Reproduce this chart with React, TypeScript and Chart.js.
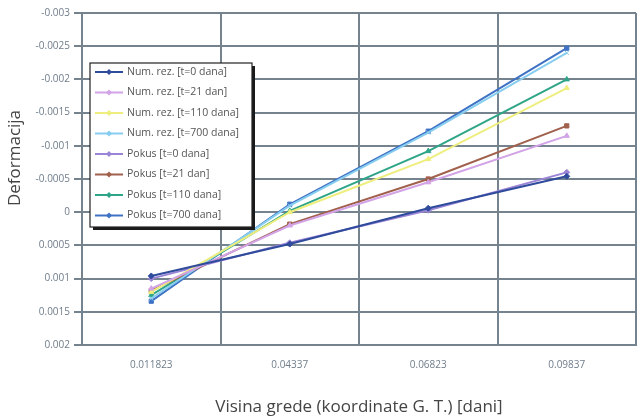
import React, { useEffect, useRef } from "react";
import { Chart, registerables } from "chart.js";

Chart.register(...registerables);

const categories = ["0.011823", "0.04337", "0.06823", "0.09837"];

const seriesLabels = [
  "Num. rez. [t=0 dana]",
  "Num. rez. [t=21 dan]",
  "Num. rez. [t=110 dana]",
  "Num. rez. [t=700 dana]",
  "Pokus [t=0 dana]",
  "Pokus [t=21 dan]",
  "Pokus [t=110 dana]",
  "Pokus [t=700 dana]",
];

const numT0 = [0.00096, 0.00048, -0.00006, -0.00054];
const numT21 = [0.00115, 0.0002, -0.00045, -0.00115];
const numT110 = [0.0012, 0.0, -0.0008, -0.00187];
const numT700 = [0.0013, -0.0001, -0.0012, -0.0024];
const pokT0 = [0.001, 0.00046, -0.00003, -0.0006];
const pokT21 = [0.00118, 0.00018, -0.0005, -0.0013];
const pokT110 = [0.00125, -0.00002, -0.00092, -0.002];
const pokT700 = [0.00134, -0.00012, -0.00122, -0.00247];

const seriesValues = [numT0, numT21, numT110, numT700, pokT0, pokT21, pokT110, pokT700];
const seriesColors = [
  "#2f4b9b",
  "#d2a3e6",
  "#eeee7e",
  "#86cdf0",
  "#9a84d6",
  "#a0604c",
  "#2ea587",
  "#3f72c4",
];
const seriesPoints = ["rectRot", "triangle", "triangle", "crossRot", "rectRot", "rect", "triangle", "rect"];

const yMin = -0.003;
const yMax = 0.002;
const yStep = 0.0005;

const xTitle = "Visina grede (koordinate G. T.) [dani]";
const yTitle = "Deformacija";

const gridColor = "#74838e";
const tickColor = "#6f7d8b";

const boxLegend = {
  id: "boxLegend",
  afterDraw(chart: any) {
    const ctx = chart.ctx;
    const x0 = 90;
    const y0 = 63;
    const w = 162;
    const h = 164;
    ctx.save();
    ctx.fillStyle = "#1a1a1a";
    ctx.fillRect(x0 + 3, y0 + 3, w, h);
    ctx.fillStyle = "#ffffff";
    ctx.fillRect(x0, y0, w, h);
    ctx.strokeStyle = "#222";
    ctx.lineWidth = 1.2;
    ctx.strokeRect(x0, y0, w, h);
    ctx.font = "10.5px 'Open Sans'";
    ctx.textBaseline = "middle";
    ctx.textAlign = "left";
    chart.data.datasets.forEach((ds: any, i: number) => {
      const y = y0 + 9 + i * 20.5;
      ctx.strokeStyle = ds.borderColor;
      ctx.lineWidth = 2;
      ctx.beginPath();
      ctx.moveTo(95, y);
      ctx.lineTo(123, y);
      ctx.stroke();
      ctx.fillStyle = ds.borderColor;
      ctx.beginPath();
      ctx.moveTo(109, y - 3);
      ctx.lineTo(112, y);
      ctx.lineTo(109, y + 3);
      ctx.lineTo(106, y);
      ctx.closePath();
      ctx.fill();
      ctx.fillStyle = "#555";
      ctx.fillText(ds.label, 127, y);
    });
    ctx.restore();
  },
};

const yTitlePlugin = {
  id: "yTitlePlugin",
  afterDraw(chart: any) {
    const ctx = chart.ctx;
    ctx.save();
    ctx.translate(15, 158);
    ctx.rotate(-Math.PI / 2);
    ctx.font = "17px 'Open Sans'";
    ctx.fillStyle = "#444";
    ctx.textAlign = "center";
    ctx.textBaseline = "middle";
    ctx.fillText(yTitle, 0, 0);
    ctx.restore();
  },
};

export default function App() {
  const canvasRef = useRef<HTMLCanvasElement | null>(null);

  useEffect(() => {
    document.body.style.margin = "0";
    const canvas = canvasRef.current;
    if (!canvas) return;
    const chart = new Chart(canvas, {
      type: "line",
      data: {
        labels: categories,
        datasets: seriesValues.map((vals, i) => ({
          label: seriesLabels[i],
          data: vals,
          borderColor: seriesColors[i],
          backgroundColor: seriesColors[i],
          borderWidth: 2,
          pointRadius: 3,
          pointStyle: seriesPoints[i] as any,
          pointBorderWidth: 1,
          fill: false,
          tension: 0,
        })),
      },
      options: {
        animation: false,
        responsive: false,
        layout: { padding: { left: 0, right: 3, top: 13, bottom: 0 } },
        plugins: {
          legend: { display: false },
          tooltip: { enabled: false },
        },
        scales: {
          x: {
            offset: true,
            grid: {
              offset: true,
              color: gridColor,
              lineWidth: 2,
              drawTicks: false,
            },
            border: { color: gridColor, width: 2 },
            ticks: {
              color: tickColor,
              font: { size: 10, family: "'Open Sans'" },
              padding: 14,
              maxRotation: 0,
            },
            title: {
              display: true,
              text: xTitle,
              color: "#444",
              font: { size: 17, family: "'Open Sans'" },
              padding: { top: 4, bottom: 0 },
            },
            afterFit(scale: any) {
              scale.height = 72;
            },
          },
          y: {
            reverse: true,
            min: yMin,
            max: yMax,
            grid: {
              color: gridColor,
              lineWidth: 2,
              tickLength: 8,
            },
            border: { color: gridColor, width: 2 },
            ticks: {
              stepSize: yStep,
              color: tickColor,
              font: { size: 10, family: "'Open Sans'" },
              padding: 4,
              callback: (value: any) => {
                const v = Math.round(Number(value) * 10000) / 10000;
                return v === 0 ? "0" : String(v);
              },
            },
            afterFit(scale: any) {
              scale.width = 82;
            },
          },
        },
      },
      plugins: [boxLegend, yTitlePlugin],
    });
    return () => chart.destroy();
  }, []);

  return (
    <div style={{ width: 641, height: 417 }}>
      <canvas ref={canvasRef} width={641} height={417} />
    </div>
  );
}
